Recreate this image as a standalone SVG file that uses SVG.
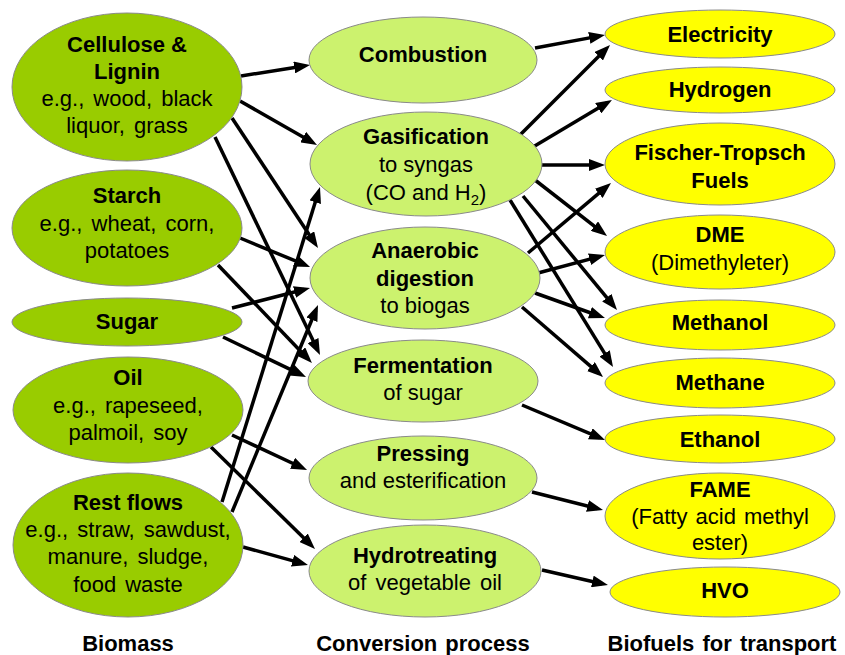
<svg xmlns="http://www.w3.org/2000/svg" width="845" height="655" viewBox="0 0 845 655">
<defs>
<marker id="ah" markerUnits="userSpaceOnUse" markerWidth="16" markerHeight="12" refX="10" refY="6" orient="auto">
<path d="M0,0 L16,6 L0,12 z" fill="#000"/>
</marker>
<style>
.bio{fill:#99cc00;stroke:#8a8a8a;stroke-width:1}
.conv{fill:#ccf26e;stroke:#8a8a8a;stroke-width:1}
.fuel{fill:#ffff00;stroke:#8a8a8a;stroke-width:1}
text{font-family:"Liberation Sans",Arial,sans-serif;font-size:22px;fill:#000;text-anchor:middle}
.b{font-weight:bold}
#connectors line{stroke:#000;stroke-width:3.5;marker-end:url(#ah)}
</style>
</defs>
<rect width="845" height="655" fill="#fff"/>

<g id="connectors">
<line x1="241" y1="76" x2="304.1" y2="65.9"/>
<line x1="240" y1="101" x2="311.8" y2="142"/>
<line x1="232" y1="118" x2="314.7" y2="243"/>
<line x1="215" y1="137" x2="317.4" y2="349.6"/>
<line x1="240" y1="238" x2="304.5" y2="264.7"/>
<line x1="218" y1="265" x2="307.8" y2="358.7"/>
<line x1="232" y1="308" x2="304.2" y2="289.5"/>
<line x1="223" y1="337" x2="300.6" y2="374.4"/>
<line x1="232" y1="435" x2="301.6" y2="467.5"/>
<line x1="211" y1="447" x2="310.7" y2="544.8"/>
<line x1="222" y1="502" x2="318.2" y2="192.7"/>
<line x1="232" y1="512" x2="315.7" y2="310.5"/>
<line x1="243" y1="547" x2="302.2" y2="563.4"/>
<line x1="535" y1="48" x2="599.1" y2="36.1"/>
<line x1="520" y1="135" x2="605.8" y2="49.2"/>
<line x1="533" y1="147" x2="606.8" y2="103.1"/>
<line x1="538" y1="165" x2="599" y2="165"/>
<line x1="528" y1="253" x2="606.4" y2="186.9"/>
<line x1="535" y1="180" x2="602.3" y2="232.3"/>
<line x1="538" y1="273" x2="599.2" y2="256.6"/>
<line x1="523" y1="196" x2="613.2" y2="305.4"/>
<line x1="510" y1="200" x2="609.9" y2="361.9"/>
<line x1="535" y1="293" x2="599.3" y2="316"/>
<line x1="522" y1="307" x2="598.5" y2="373.1"/>
<line x1="522" y1="405" x2="599.5" y2="437.7"/>
<line x1="532" y1="492" x2="597.2" y2="508.5"/>
<line x1="542" y1="570" x2="602.1" y2="583.7"/>
</g>

<g id="cellulose">
<ellipse class="bio" cx="127" cy="87" rx="115" ry="74"/>
<text class="b" x="127" y="52">Cellulose &amp;</text>
<text class="b" x="127" y="79">Lignin</text>
<text x="127" y="106" word-spacing="3">e.g., wood, black</text>
<text x="127" y="133" word-spacing="3">liquor, grass</text>
</g>
<g id="starch">
<ellipse class="bio" cx="127" cy="228" rx="115" ry="58"/>
<text class="b" x="127" y="203">Starch</text>
<text x="127" y="231" word-spacing="3">e.g., wheat, corn,</text>
<text x="127" y="258">potatoes</text>
</g>
<g id="sugar">
<ellipse class="bio" cx="127" cy="322" rx="115" ry="24"/>
<text class="b" x="127" y="329">Sugar</text>
</g>
<g id="oil">
<ellipse class="bio" cx="128" cy="410" rx="115" ry="53"/>
<text class="b" x="128" y="385">Oil</text>
<text x="128" y="413" word-spacing="3">e.g., rapeseed,</text>
<text x="128" y="440" word-spacing="3">palmoil, soy</text>
</g>
<g id="restflows">
<ellipse class="bio" cx="128" cy="545" rx="115" ry="72"/>
<text class="b" x="128" y="510">Rest flows</text>
<text x="128" y="537" word-spacing="3">e.g., straw, sawdust,</text>
<text x="128" y="564" word-spacing="3">manure, sludge,</text>
<text x="128" y="592" word-spacing="3">food waste</text>
</g>

<g id="combustion">
<ellipse class="conv" cx="423" cy="60" rx="114" ry="43"/>
<text class="b" x="423" y="62">Combustion</text>
</g>
<g id="gasification">
<ellipse class="conv" cx="426" cy="164" rx="116" ry="52"/>
<text class="b" x="426" y="144">Gasification</text>
<text x="426" y="172">to syngas</text>
<text x="426" y="200">(CO and H<tspan font-size="15" dy="5">2</tspan><tspan dy="-5">)</tspan></text>
</g>
<g id="anaerobic">
<ellipse class="conv" cx="425" cy="278" rx="115" ry="51"/>
<text class="b" x="425" y="258">Anaerobic</text>
<text class="b" x="425" y="286">digestion</text>
<text x="425" y="313">to biogas</text>
</g>
<g id="fermentation">
<ellipse class="conv" cx="423" cy="381" rx="115" ry="41"/>
<text class="b" x="423" y="373">Fermentation</text>
<text x="423" y="400">of sugar</text>
</g>
<g id="pressing">
<ellipse class="conv" cx="423" cy="478" rx="114" ry="42"/>
<text class="b" x="423" y="461">Pressing</text>
<text x="423" y="488">and esterification</text>
</g>
<g id="hydrotreating">
<ellipse class="conv" cx="425" cy="571" rx="116" ry="46"/>
<text class="b" x="425" y="563">Hydrotreating</text>
<text x="425" y="590" word-spacing="3">of vegetable oil</text>
</g>

<g id="electricity">
<ellipse class="fuel" cx="720" cy="34" rx="115" ry="24"/>
<text class="b" x="720" y="42">Electricity</text>
</g>
<g id="hydrogen">
<ellipse class="fuel" cx="720" cy="90" rx="115" ry="23"/>
<text class="b" x="720" y="97">Hydrogen</text>
</g>
<g id="fischer">
<ellipse class="fuel" cx="720" cy="164" rx="115" ry="41"/>
<text class="b" x="720" y="160">Fischer-Tropsch</text>
<text class="b" x="720" y="188">Fuels</text>
</g>
<g id="dme">
<ellipse class="fuel" cx="720" cy="252" rx="115" ry="37"/>
<text class="b" x="720" y="242">DME</text>
<text x="720" y="270">(Dimethyleter)</text>
</g>
<g id="methanol">
<ellipse class="fuel" cx="720" cy="325" rx="115" ry="25"/>
<text class="b" x="720" y="330">Methanol</text>
</g>
<g id="methane">
<ellipse class="fuel" cx="720" cy="383" rx="115" ry="25"/>
<text class="b" x="720" y="390">Methane</text>
</g>
<g id="ethanol">
<ellipse class="fuel" cx="720" cy="439" rx="115" ry="24"/>
<text class="b" x="720" y="447">Ethanol</text>
</g>
<g id="fame">
<ellipse class="fuel" cx="720" cy="516" rx="115" ry="43"/>
<text class="b" x="720" y="497">FAME</text>
<text x="720" y="524" word-spacing="2">(Fatty acid methyl</text>
<text x="720" y="550">ester)</text>
</g>
<g id="hvo">
<ellipse class="fuel" cx="725" cy="592" rx="115" ry="25"/>
<text class="b" x="725" y="598">HVO</text>
</g>

<g id="labels">
<text class="b" x="128" y="651">Biomass</text>
<text class="b" x="423" y="651" word-spacing="2">Conversion process</text>
<text class="b" x="722" y="651" word-spacing="2">Biofuels for transport</text>
</g>
</svg>
